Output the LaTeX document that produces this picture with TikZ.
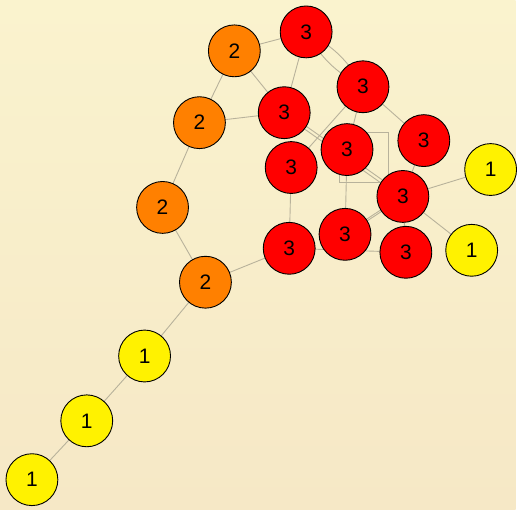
\documentclass[tikz,border=0pt]{standalone}
\usepackage{fontspec}
\setmainfont{Liberation Sans}
\pgfdeclarelayer{bg}
\pgfsetlayers{bg,main}
\begin{document}
\begin{tikzpicture}[x=1pt,y=-1pt,
  vtx/.style={circle,draw=black,line width=0.9pt,minimum size=52pt,inner sep=0pt,font=\fontsize{21}{21}\selectfont},
  yel/.style={vtx,fill=yellow},
  org/.style={vtx,fill={rgb,255:red,255;green,128;blue,0}},
  rd/.style={vtx,fill=red},
  edge/.style={draw={rgb,255:red,184;green,178;blue,155},line width=0.9pt}]
% nodes
\node[yel] (y1) at (32,481) {1};
\node[yel] (y2) at (87,422) {1};
\node[yel] (y3) at (145,357) {1};
\node[org] (o1) at (206,283) {2};
\node[org] (o2) at (163,208) {2};
\node[org] (o3) at (200,123) {2};
\node[org] (o4) at (235,51) {2};
\node[rd] (ra) at (307,32) {3};
\node[rd] (rb) at (285,113) {3};
\node[rd] (rc) at (364,87) {3};
\node[rd] (rd) at (292,168) {3};
\node[rd] (re) at (348,150) {3};
\node[rd] (rf) at (425,141) {3};
\node[rd] (rg) at (404,197) {3};
\node[rd] (rh) at (290,249) {3};
\node[rd] (ri) at (346,235) {3};
\node[rd] (rj) at (407,253) {3};
\node[yel] (y4) at (492,170) {1};
\node[yel] (y5) at (473,251) {1};
\begin{pgfonlayer}{bg}
\shade[top color={rgb,255:red,250;green,243;blue,206},bottom color={rgb,255:red,246;green,232;blue,198}] (0,0) rectangle (517,511);
\path[edge] (y1.center) -- (y2.center) -- (y3.center) -- (o1.center) -- (o2.center) -- (o3.center) -- (o4.center) -- (ra.center);
\path[edge] (o4.center) -- (rb.center);
\path[edge] (o3.center) -- (rb.center);
\path[edge] (o1.center) -- (rh.center);
\path[edge] (ra.center) -- (rb.center);
\path[edge] (ra.center) to[bend left=16] (rc.center);
\path[edge] (ra.center) to[bend right=16] (rc.center);
\path[edge] (rc.center) -- (rf.center);
\path[edge] (rc.center) -- (rd.center);
\path[edge] (rc.center) -- (re.center);
\path[edge] (rf.center) -- (rg.center);
\path[edge] ([yshift=-2pt]rb.center) -- ([yshift=-2pt]rg.center);
\path[edge] ([yshift=2pt]rb.center) -- ([yshift=2pt]rg.center);
\path[edge] (rd.center) -- (rh.center);
\path[edge] (re.center) -- (ri.center);
\path[edge] ([xshift=-1.5pt,yshift=-2pt]ri.center) -- ([xshift=-1.5pt,yshift=-2pt]rg.center);
\path[edge] ([xshift=1.5pt,yshift=2pt]ri.center) -- ([xshift=1.5pt,yshift=2pt]rg.center);
\path[edge] (rh.center) -- (rj.center);
\path[edge] (rg.center) -- (rj.center);
\path[edge] (rg.center) -- (y4.center);
\path[edge] (rg.center) -- (y5.center);
\path[edge] (340,133) rectangle (390,183);
\end{pgfonlayer}
\useasboundingbox (0,0) rectangle (517,511);
\end{tikzpicture}
\end{document}
